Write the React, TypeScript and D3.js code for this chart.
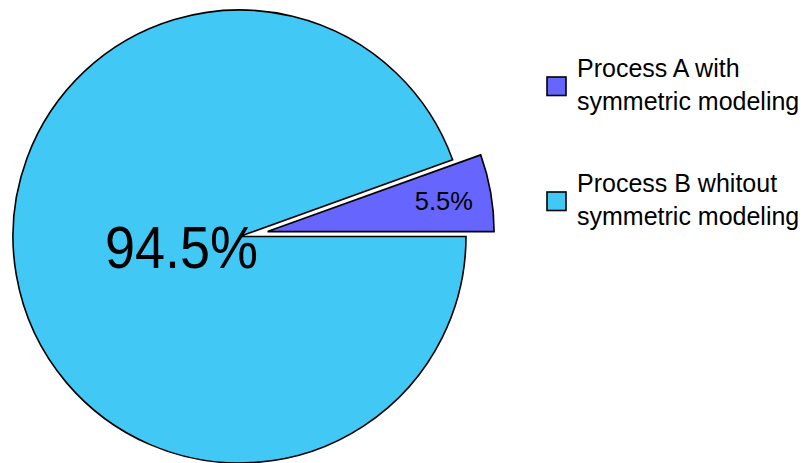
import React from "react";
import * as d3 from "d3";

const labels = ["Process A with symmetric modeling", "Process B whitout symmetric modeling"];
const legendLines = [
  ["Process A with", "symmetric modeling"],
  ["Process B whitout", "symmetric modeling"],
];
const values = [5.5, 94.5];
const colors = ["#6666FF", "#41C8F4"];

const W = 805;
const H = 463;

export default function App() {
  const cx = 239.5;
  const cy = 236.5;
  const r = 226.5;
  const total = d3.sum(values);
  const start = Math.PI / 2 - (2 * Math.PI * values[0]) / total;
  const pie = d3
    .pie<number>()
    .sort(null)
    .startAngle(start)
    .endAngle(start + 2 * Math.PI);
  const arcs = pie(values);
  const arc = d3.arc<d3.PieArcDatum<number>>().innerRadius(0).outerRadius(r);

  const explode = [28.5, 0];
  const labelFrac = [0.79, 0.26];
  const labelSize = [26, 60];
  const labelWidth = [58, 153];

  return (
    <svg
      width={W}
      height={H}
      style={{ position: "absolute", left: 0, top: 0, display: "block" }}
      fontFamily="'Liberation Sans', Arial, sans-serif"
    >
      <rect width={W} height={H} fill="#fff" />
      <g transform={`translate(${cx},${cy})`}>
        {arcs.map((a, i) => {
          const mid = (a.startAngle + a.endAngle) / 2;
          const dx = Math.sin(mid) * explode[i];
          const dy = -Math.cos(mid) * explode[i];
          const lr = r * labelFrac[i];
          const lx = dx + Math.sin(mid) * lr;
          const ly = dy - Math.cos(mid) * lr;
          return (
            <g key={i} transform={`translate(${dx},${dy})`}>
              <path d={arc(a) || ""} fill={colors[i]} stroke="#000" strokeWidth={1.6} strokeLinejoin="miter" />
              <text
                x={lx - dx}
                y={ly - dy + labelSize[i] * 0.36}
                textAnchor="middle"
                fontSize={labelSize[i]}
                textLength={labelWidth[i]}
                lengthAdjust="spacingAndGlyphs"
                fill="#000"
              >
                {`${values[i]}%`}
              </text>
            </g>
          );
        })}
      </g>
      <g>
        {labels.map((lab, i) => {
          const y0 = 77 + i * 115;
          return (
            <g key={lab}>
              <rect x={547} y={y0} width={19} height={18.5} fill={colors[i]} stroke="#000" strokeWidth={1.6} />
              {legendLines[i].map((ln, j) => (
                <text key={j} x={577} y={y0 + j * 33} fontSize={25} fill="#000">
                  {ln}
                </text>
              ))}
            </g>
          );
        })}
      </g>
    </svg>
  );
}
